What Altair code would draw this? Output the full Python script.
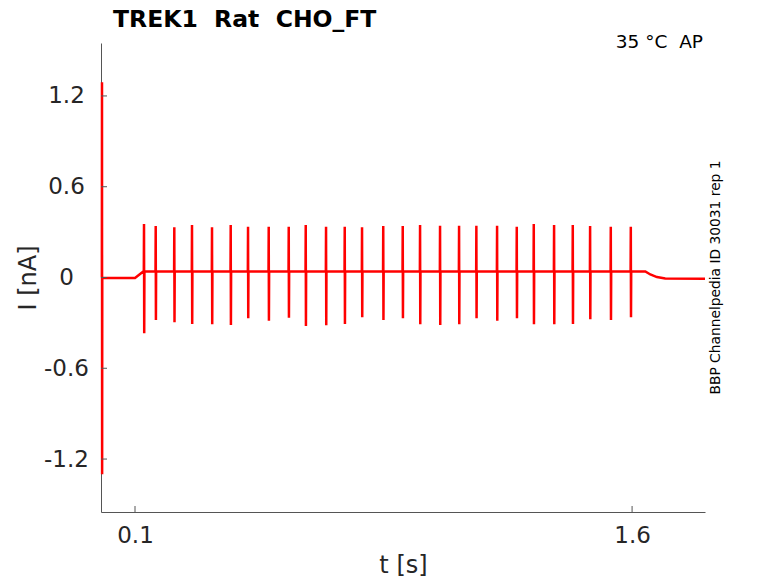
import altair as alt
import pandas as pd

# ---- data ----
# initial transient (time s, current nA)
init_t = [0.0000, 0.0004, 0.0008, 0.0012]
init_v = [0.000, 1.290, -1.300, 0.000]

# baseline (holding) level breakpoints
base_t = [0.0012, 0.100, 0.125, 1.640, 1.655, 1.675, 1.700, 1.820]
base_v = [-0.003, -0.003, 0.040, 0.040, 0.020, 0.003, -0.006, -0.008]
plateau = 0.040

# spike train
spike_t = [0.1272, 0.1625, 0.2186, 0.2720, 0.3324, 0.3888, 0.4411, 0.5035, 0.5639,
           0.6152, 0.6765, 0.7329, 0.7851, 0.8491, 0.9079, 0.9602, 1.0205, 1.0779,
           1.1301, 1.1926, 1.2520, 1.3033, 1.3646, 1.4210, 1.4733, 1.5357, 1.5961]
spike_up = [0.354, 0.340, 0.332, 0.347, 0.332, 0.347, 0.336, 0.336, 0.336,
            0.347, 0.336, 0.336, 0.332, 0.340, 0.340, 0.347, 0.342, 0.342,
            0.342, 0.342, 0.336, 0.354, 0.347, 0.347, 0.340, 0.336, 0.336]
spike_dn = [-0.369, -0.281, -0.296, -0.307, -0.309, -0.314, -0.270, -0.286, -0.266,
            -0.321, -0.316, -0.307, -0.263, -0.281, -0.270, -0.309, -0.314, -0.309,
            -0.270, -0.286, -0.270, -0.309, -0.309, -0.307, -0.276, -0.281, -0.263]

xtick_values = [0.1, 1.6]
ytick_values = [-1.2, -0.6, 0.0, 0.6, 1.2]
x_domain = [-0.0026, 1.82]
y_domain = [-1.55, 1.55]

NB = "\u00a0"
title_text = "TREK1" + NB + " Rat" + NB + " CHO_FT"
temp_text = "35 °C" + NB + " AP"
id_text = "BBP Channelpedia ID 30031 rep 1"

# ---- build trace table ----
rows = []
for t, v in zip(init_t, init_v):
    rows.append((t, v))
for t, v in zip(base_t, base_v):
    rows.append((t, v))
dt = 0.0006
for t, u, d in zip(spike_t, spike_up, spike_dn):
    rows.append((t - dt, plateau))
    rows.append((t, u))
    rows.append((t + dt, d))
    rows.append((t + 2 * dt, plateau))
rows.sort(key=lambda r: r[0])
trace = pd.DataFrame(rows, columns=["t", "I"])
trace["o"] = range(len(trace))

W, H = 604, 469
xs = alt.Scale(domain=x_domain, nice=False, zero=False)
ys = alt.Scale(domain=y_domain, nice=False, zero=False)

font = "DejaVu Sans"
axis_col = "#262626"
dom_col = "#555555"

line = alt.Chart(trace).mark_line(color="#ff0000", strokeWidth=2.5).encode(
    x=alt.X("t:Q", scale=xs,
            axis=alt.Axis(values=xtick_values, format=".1f", title="t [s]",
                          ticks=False, tickSize=0, grid=False,
                          labelFontSize=23, labelFont=font, labelColor=axis_col,
                          labelBaseline="alphabetic", labelPadding=30,
                          titleFontSize=24, titleFont=font, titleFontWeight="normal",
                          titleColor=axis_col, titleBaseline="alphabetic",
                          titleY=60, domainColor=dom_col, domainWidth=1)),
    y=alt.Y("I:Q", scale=ys,
            axis=alt.Axis(values=ytick_values, title="I [nA]",
                          labelExpr="datum.value == 0 ? '0' : (datum.value < 0 ? '-' + format(-datum.value, '.1f') : format(datum.value, '.1f'))",
                          ticks=False, tickSize=0, grid=False,
                          labelFontSize=23, labelFont=font, labelColor=axis_col,
                          labelAlign="center", labelBaseline="middle", labelPadding=35,
                          titleFontSize=24, titleFont=font, titleFontWeight="normal",
                          titleColor=axis_col, titleBaseline="middle",
                          titleX=-73, titleY=H / 2, titleAngle=270,
                          domainColor=dom_col, domainWidth=1)),
    order="o:Q",
)

xt = alt.Chart(pd.DataFrame({"t": xtick_values})).mark_rule(color=dom_col, strokeWidth=1).encode(
    x=alt.X("t:Q", scale=xs), y=alt.value(H), y2=alt.value(H - 6))
yt = alt.Chart(pd.DataFrame({"I": ytick_values})).mark_rule(color=dom_col, strokeWidth=1).encode(
    y=alt.Y("I:Q", scale=ys), x=alt.value(0), x2=alt.value(6))

title = alt.Chart(pd.DataFrame({"s": [title_text]})).mark_text(
    font=font, fontSize=23.5, fontWeight="bold", color="#000000",
    align="left", baseline="alphabetic").encode(
    x=alt.value(12), y=alt.value(-16), text="s:N")
temp = alt.Chart(pd.DataFrame({"s": [temp_text]})).mark_text(
    font=font, fontSize=18.5, color="#000000",
    align="right", baseline="alphabetic").encode(
    x=alt.value(602), y=alt.value(5), text="s:N")
ident = alt.Chart(pd.DataFrame({"s": [id_text]})).mark_text(
    font=font, fontSize=13.8, color="#000000", angle=270,
    align="center", baseline="middle").encode(
    x=alt.value(615), y=alt.value(H / 2), text="s:N")

chart = alt.layer(line, xt, yt, title, temp, ident).properties(
    width=W, height=H,
    autosize=alt.AutoSizeParams(type="none"),
    padding={"left": 93, "top": 35, "right": 65, "bottom": 68},
).configure_view(stroke="transparent", strokeWidth=0)

chart.save("out.html", embed_options={"renderer": "svg", "actions": False})
